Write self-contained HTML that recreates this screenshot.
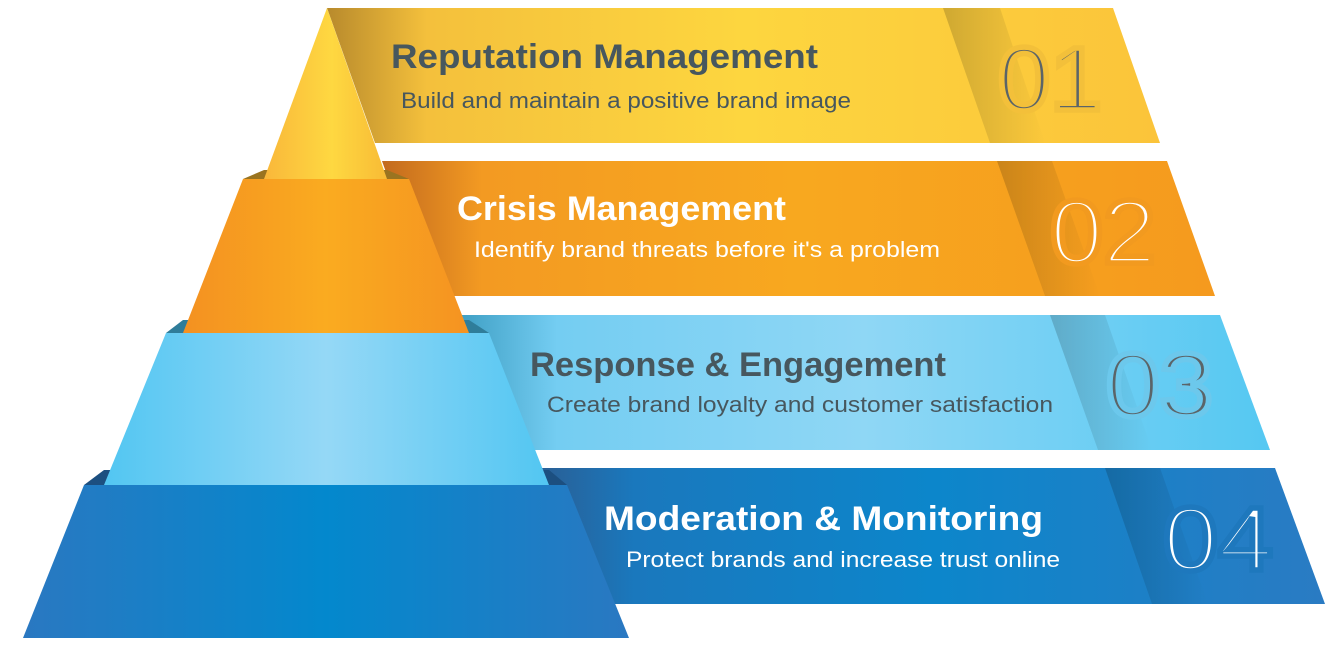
<!DOCTYPE html>
<html><head><style>html,body{margin:0;padding:0;background:#fff;}svg{display:block}</style></head>
<body>
<svg width="1341" height="655" viewBox="0 0 1341 655" xmlns="http://www.w3.org/2000/svg" font-family="'Liberation Sans', sans-serif">
<defs>
<linearGradient id="b1" x1="0" x2="1"><stop offset="0" stop-color="#b88a2c"/><stop offset="0.12" stop-color="#f4c03c"/><stop offset="0.5" stop-color="#fdd63f"/><stop offset="1" stop-color="#fbc43a"/></linearGradient>
<linearGradient id="b2" x1="0" x2="1"><stop offset="0" stop-color="#c26a1e"/><stop offset="0.12" stop-color="#f39a22"/><stop offset="0.5" stop-color="#f8a81f"/><stop offset="1" stop-color="#f59a1e"/></linearGradient>
<linearGradient id="b3" x1="0" x2="1"><stop offset="0" stop-color="#3f9fc4"/><stop offset="0.12" stop-color="#74cdf2"/><stop offset="0.5" stop-color="#8fd7f5"/><stop offset="1" stop-color="#55c8f2"/></linearGradient>
<linearGradient id="b4" x1="0" x2="1"><stop offset="0" stop-color="#2a5f95"/><stop offset="0.12" stop-color="#1a78bd"/><stop offset="0.5" stop-color="#0c86cb"/><stop offset="1" stop-color="#2a7bc3"/></linearGradient>
<linearGradient id="ns" x1="0" x2="1"><stop offset="0" stop-color="#000" stop-opacity="0.18"/><stop offset="1" stop-color="#000" stop-opacity="0"/></linearGradient>
<linearGradient id="p1" x1="0" x2="1"><stop offset="0" stop-color="#f9b73a"/><stop offset="0.55" stop-color="#fed841"/><stop offset="1" stop-color="#f8bb35"/></linearGradient>
<linearGradient id="p2" x1="0" x2="1"><stop offset="0" stop-color="#f49121"/><stop offset="0.5" stop-color="#faab20"/><stop offset="1" stop-color="#f59321"/></linearGradient>
<linearGradient id="p3" x1="0" x2="1"><stop offset="0" stop-color="#52c6f2"/><stop offset="0.5" stop-color="#95d8f6"/><stop offset="1" stop-color="#52c6f2"/></linearGradient>
<linearGradient id="p4" x1="0" x2="1"><stop offset="0" stop-color="#2a78c1"/><stop offset="0.5" stop-color="#0388cd"/><stop offset="1" stop-color="#2a78c1"/></linearGradient>
</defs>
<polygon points="327,8 1113,8 1160,143 375,143" fill="url(#b1)"/>
<polygon points="943,8 1000,8 1045,143 990,143" fill="url(#ns)"/>
<polygon points="382,161 1167,161 1215,296 430,296" fill="url(#b2)"/>
<polygon points="997,161 1052,161 1100,296 1045,296" fill="url(#ns)"/>
<polygon points="460,315 1220,315 1270,450 500,450" fill="url(#b3)"/>
<polygon points="1050,315 1105,315 1152,450 1098,450" fill="url(#ns)"/>
<polygon points="540,468 1275,468 1325,604 570,604" fill="url(#b4)"/>
<polygon points="1105,468 1160,468 1208,604 1152,604" fill="url(#ns)"/>
<polygon points="243,179 264,170 387,170 409,179" fill="#9a7420"/>
<polygon points="327,8 387,179 264,179" fill="url(#p1)"/>
<polygon points="166,333 183,320 469,320 489,333" fill="#2f7d9a"/>
<polygon points="243,179 409,179 469,333 183,333" fill="url(#p2)"/>
<polygon points="84,485 104,470 549,470 567,485" fill="#1c4f80"/>
<polygon points="166,333 489,333 549,485 104,485" fill="url(#p3)"/>
<polygon points="84,485 567,485 629,638 23,638" fill="url(#p4)"/>
<g font-weight="bold" font-size="34">
<text x="391" y="68" fill="#47575e" textLength="427" lengthAdjust="spacingAndGlyphs">Reputation Management</text>
<text x="457" y="220" fill="#fff" textLength="329" lengthAdjust="spacingAndGlyphs">Crisis Management</text>
<text x="530" y="376" fill="#47575e" textLength="416" lengthAdjust="spacingAndGlyphs">Response &amp; Engagement</text>
<text x="604" y="530" fill="#fff" textLength="439" lengthAdjust="spacingAndGlyphs">Moderation &amp; Monitoring</text>
</g>
<g font-size="22">
<text x="401" y="108" fill="#47575e" textLength="450" lengthAdjust="spacingAndGlyphs">Build and maintain a positive brand image</text>
<text x="474" y="257" fill="#fff" textLength="466" lengthAdjust="spacingAndGlyphs">Identify brand threats before it's a problem</text>
<text x="547" y="412" fill="#47575e" textLength="506" lengthAdjust="spacingAndGlyphs">Create brand loyalty and customer satisfaction</text>
<text x="626" y="567" fill="#fff" textLength="434" lengthAdjust="spacingAndGlyphs">Protect brands and increase trust online</text>
</g>
<g font-size="90" stroke-width="5.5">
<text x="998" y="110" fill="#5b6468" stroke="#f3c03a" textLength="104" lengthAdjust="spacingAndGlyphs">01</text>
<text x="1050" y="263" fill="#fff" stroke="#f29a1f" textLength="106" lengthAdjust="spacingAndGlyphs">02</text>
<text x="1106" y="416" fill="#5b6468" stroke="#6cc8ec" textLength="107" lengthAdjust="spacingAndGlyphs">03</text>
<text x="1163" y="570" fill="#fff" stroke="#1e78bd" textLength="110" lengthAdjust="spacingAndGlyphs">04</text>
</g>
</svg>
</body></html>
